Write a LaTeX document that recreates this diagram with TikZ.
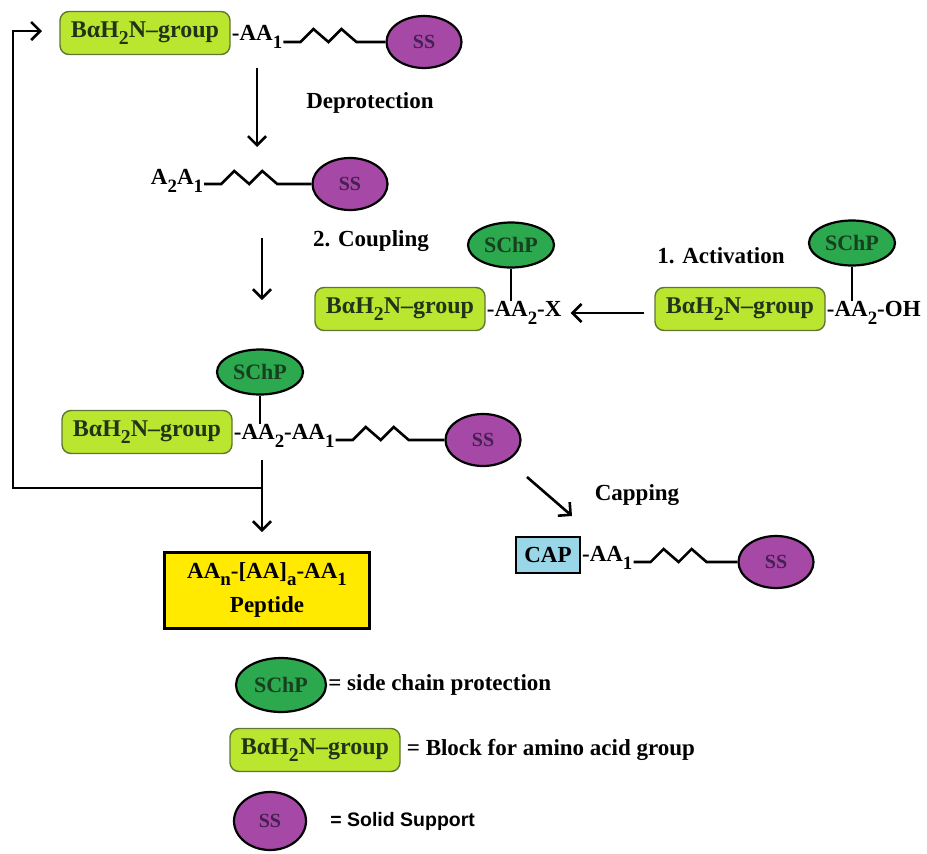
\documentclass[tikz,border=0pt]{standalone}
\usepackage{fontspec}
\setmainfont{Liberation Serif}
\newfontfamily\legendsans{Liberation Sans}
\usetikzlibrary{shapes.geometric,arrows.meta}
\definecolor{limefill}{RGB}{186,230,48}
\definecolor{limeline}{RGB}{96,118,52}
\definecolor{boxtext}{RGB}{34,52,24}
\definecolor{schpfill}{RGB}{44,168,78}
\definecolor{schptext}{RGB}{22,64,30}
\definecolor{ssfill}{RGB}{166,72,166}
\definecolor{sstext}{RGB}{70,32,82}
\definecolor{capfill}{RGB}{152,214,232}
\definecolor{pepfill}{RGB}{255,234,0}
\newcommand{\lsub}[1]{\raisebox{-0.32em}{\scalebox{0.82}{#1}}}
\newcommand{\zig}[2]{\draw[bond] (#1 |- #2) -- ++(17,0) -- ++(13,-13) -- ++(15,13) -- ++(13,-13) -- ++(15,13) -- (#2);}

\begin{document}
\begin{tikzpicture}[x=1pt, y=-1pt, font=\fontsize{23}{27}\selectfont\bfseries,
  blockbox/.style={draw=limeline, fill=limefill, rounded corners=9pt, line width=1.4pt, minimum width=170pt, minimum height=43pt, inner sep=2pt, text=boxtext, font=\fontsize{24}{28}\selectfont\bfseries},
  schp/.style={ellipse, draw=black, fill=schpfill, line width=2.2pt, minimum width=86pt, minimum height=45pt, inner sep=0pt, text=schptext, font=\fontsize{22}{25}\selectfont\bfseries},
  ss/.style={ellipse, draw=black, fill=ssfill, line width=2.2pt, minimum width=75pt, minimum height=52pt, inner sep=0pt, text=sstext, font=\fontsize{20}{23}\selectfont\bfseries},
  chem/.style={inner sep=1pt},
  bond/.style={line width=2.6pt},
  arr/.style={line width=2.6pt, -{Straight Barb[length=9pt, width=18pt]}}]
  \useasboundingbox (0,0) rectangle (927,854);

  \node[blockbox] (b1) at (145,33) {BαH\lsub{2}N--group};
  \node[chem, anchor=west] (a1) at ([yshift=-4pt]b1.east) {-AA\lsub{1}};
  \node[ss] (s1) at (424,42) {SS};
  \zig{a1.east}{s1.west}

  \coordinate (d0) at (257,68);
  \coordinate (d1) at (257,147);
  \draw[arr] (d0) -- (d1);
  \node (dep) at (370,103) {Deprotection};

  \node[chem] (a2) at (177,181) {A\lsub{2}A\lsub{1}};
  \node[ss] (s2) at (350,184) {SS};
  \zig{a2.east}{s2.west}

  \coordinate (c0) at (262,238);
  \coordinate (c1) at (262,300);
  \draw[arr] (c0) -- (c1);
  \node (cpl) at (371,241) {2. Coupling};

  \node[blockbox] (b2) at (400,309) {BαH\lsub{2}N--group};
  \node[chem, anchor=west] (a3) at ([yshift=-4pt]b2.east) {-AA\lsub{2}-X};
  \node[schp] (p1) at (511,245) {SChP};
  \draw[bond] (p1.south) -- (p1.south |- a3.north);

  \node[blockbox] (b3) at (740,309) {BαH\lsub{2}N--group};
  \node[chem, anchor=west] (a4) at ([yshift=-4pt]b3.east) {-AA\lsub{2}-OH};
  \node[schp] (p2) at (852,243) {SChP};
  \draw[bond] (p2.south) -- (p2.south |- a4.north);
  \node (act) at (721,256) {1. Activation};
  \draw[arr, shorten <=10pt, shorten >=8pt] (b3.west |- a3.east) -- (a3.east);

  \node[schp] (p3) at (260,372) {SChP};
  \node[blockbox] (b4) at (147,432) {BαH\lsub{2}N--group};
  \node[chem, anchor=west] (a5) at ([yshift=-4pt]b4.east) {-AA\lsub{2}-AA\lsub{1}};
  \node[ss] (s3) at (483,440) {SS};
  \draw[bond] (p3.south) -- (p3.south |- a5.north);
  \zig{a5.east}{s3.west}

  \coordinate (m0) at (262,460);
  \coordinate (m1) at (262,532);
  \coordinate (j) at (262,488);
  \coordinate (k1) at (13,31);
  \coordinate (k2) at (42,31);
  \draw[arr] (m0) -- (m1);
  \draw[arr] (j) -| (k1) -- (k2);

  \node[draw, fill=pepfill, line width=3pt, minimum width=205pt, minimum height=76pt, inner sep=3pt, align=center, font=\fontsize{23}{34}\selectfont\bfseries] (pep) at (267,590) {AA\lsub{n}-[AA]\lsub{a}-AA\lsub{1}\\Peptide};

  \coordinate (q0) at (527,477);
  \coordinate (q1) at (572,516);
  \draw[arr] (q0) -- (q1);
  \node (cpg) at (637,495) {Capping};

  \node[draw, fill=capfill, line width=1.8pt, minimum width=64pt, minimum height=36pt, inner sep=2pt] (cap) at (548,555) {CAP};
  \node[chem, anchor=west] (a6) at ([yshift=-3pt]cap.east) {-AA\lsub{1}};
  \node[ss] (s4) at (776,562) {SS};
  \zig{a6.east}{s4.west}

  \node[schp, minimum width=90pt, minimum height=54pt] (l1) at (281,685) {SChP};
  \node[anchor=west, inner sep=1pt] (t1) at (l1.east) {= side chain protection};
  \node[blockbox] (l2) at (315,750) {BαH\lsub{2}N--group};
  \node[anchor=west, inner sep=1pt] (t2) at ([xshift=5pt]l2.east) {= Block for amino acid group};
  \node[ss, minimum width=72pt, minimum height=58pt] (l3) at (270,821) {SS};
  \node[anchor=west, inner sep=1pt, font=\fontsize{19.5}{23}\selectfont\legendsans\bfseries] (t3) at ([xshift=22pt]l3.east) {= Solid Support};
\end{tikzpicture}
\end{document}
